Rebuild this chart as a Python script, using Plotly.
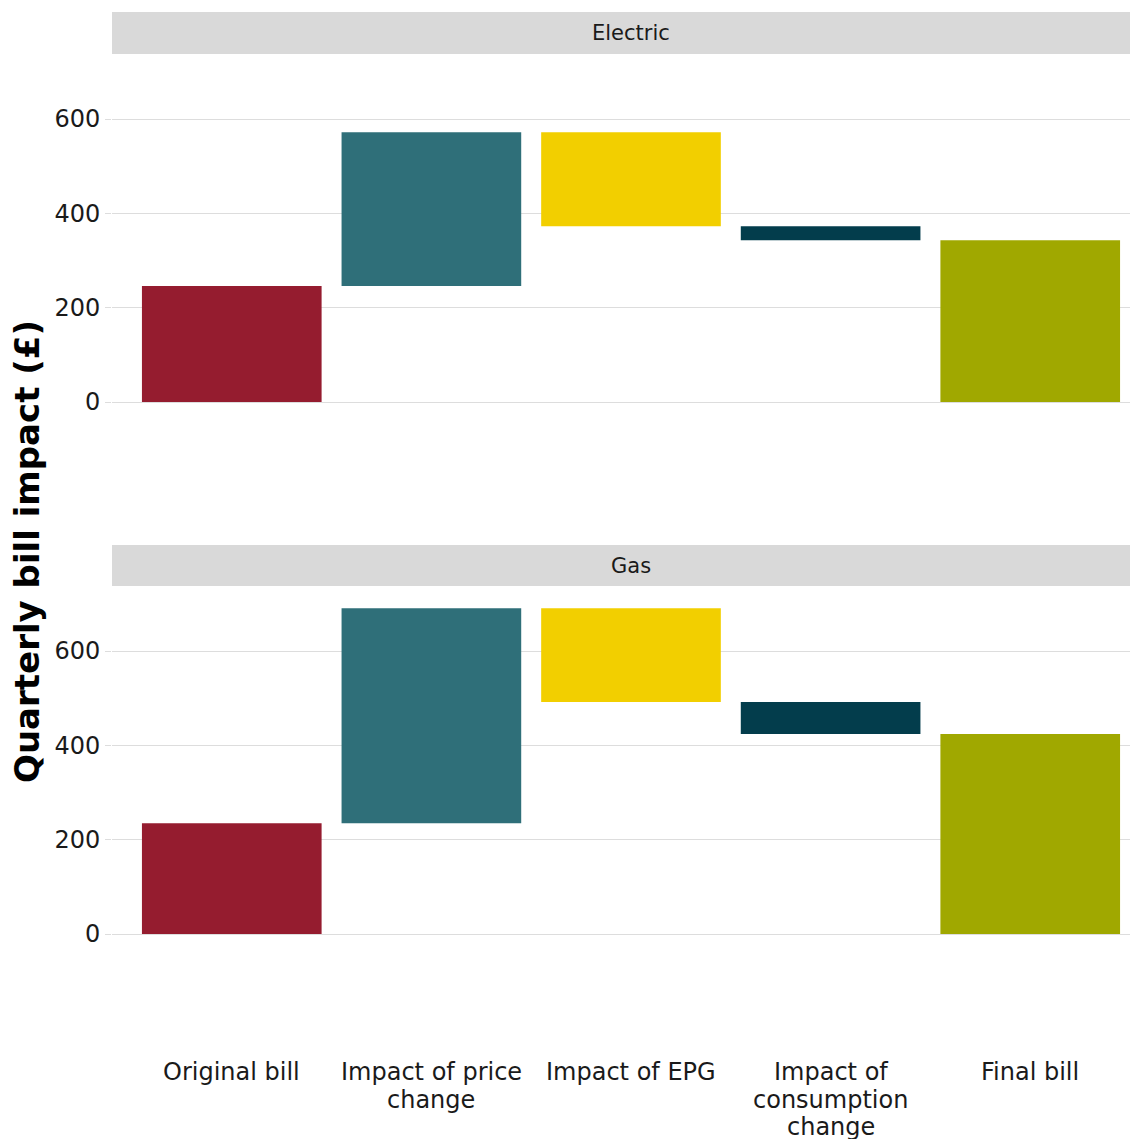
import plotly.graph_objects as go

categories = ["Original bill", "Impact of price<br>change", "Impact of EPG",
              "Impact of<br>consumption<br>change", "Final bill"]
electric_steps = [246, 326, -199, -30, 343]
gas_steps = [235, 456, -199, -68, 424]
bar_colors = ["#951C2F", "#2F6F79", "#F2CF00", "#033D4C", "#A0A800"]
panel_names = ["Electric", "Gas"]
y_ticks = [0, 200, 400, 600]


def bases_for(steps):
    bases = []
    running = 0
    for i, s in enumerate(steps):
        if i == 0 or i == len(steps) - 1:
            bases.append(0)
        else:
            bases.append(running)
        running = s if i == 0 else running + s
    return bases


FONT = "DejaVu Sans"
W, H = 1142, 1131          # page body has an 8px margin; right part clipped like the reference
ML, MR, MT, MB = 104, 0, 4, 87
PLOT_H = H - MT - MB       # 1040
BOTTOM_PX = 8 + MT + PLOT_H  # page pixel of plot bottom


def py(pixel):
    """page pixel y -> paper y"""
    return (BOTTOM_PX - pixel) / PLOT_H


fig = go.Figure()

for steps, xa, ya in [(electric_steps, "x", "y"), (gas_steps, "x2", "y2")]:
    fig.add_trace(go.Bar(
        x=list(range(len(categories))), y=steps, base=bases_for(steps),
        marker=dict(color=bar_colors, line=dict(width=0)),
        width=0.9, xaxis=xa, yaxis=ya, showlegend=False, hoverinfo="skip",
    ))

el_dom = [py(520), py(54)]
gas_dom = [0.0, py(586)]
yr = [-250, 738]
xr = [-0.6, 4.6]

common_y = dict(range=yr, tickvals=y_ticks, showgrid=True, gridcolor="#DDDDDD",
                gridwidth=1.3, zeroline=False, ticks="outside", ticklen=6,
                tickcolor="#DDDDDD", tickwidth=1.3,
                tickfont=dict(family=FONT, size=24, color="#1a1a1a"),
                showline=False)
common_x = dict(range=xr, showgrid=False, zeroline=False, showline=False,
                tickmode="array", tickvals=list(range(len(categories))),
                showticklabels=False)

fig.update_layout(
    width=W, height=H,
    margin=dict(l=ML, r=MR, t=MT, b=MB),
    plot_bgcolor="white", paper_bgcolor="white",
    xaxis=dict(domain=[0, 1], anchor="y", **common_x),
    yaxis=dict(domain=el_dom, anchor="x", **common_y),
    xaxis2=dict(domain=[0, 1], anchor="y2", **common_x),
    yaxis2=dict(domain=gas_dom, anchor="x2", **common_y),
)

# category labels, one line per annotation for ggplot-like tight line spacing
for i, label in enumerate(categories):
    for k, line in enumerate(label.split("<br>")):
        fig.add_annotation(text=line, xref="x2", yref="paper", x=i,
                           y=py(1072 + k * 27.5), showarrow=False,
                           xanchor="center", yanchor="middle",
                           font=dict(family=FONT, size=24, color="#1a1a1a"))

strips = [(panel_names[0], py(54), py(12)), (panel_names[1], py(586), py(545))]
for name, y0, y1 in strips:
    fig.add_shape(type="rect", xref="paper", yref="paper", x0=0, x1=1, y0=y0, y1=y1,
                  fillcolor="#D9D9D9", line=dict(width=0), layer="below")
    fig.add_annotation(text=name, xref="paper", yref="paper", x=0.5, y=(y0 + y1) / 2,
                       showarrow=False, xanchor="center", yanchor="middle",
                       font=dict(family=FONT, size=21, color="#1a1a1a"))

fig.add_annotation(text="<b>Quarterly bill impact (£)</b>", xref="paper", yref="paper",
                   x=(27 - 8 - ML) / (W - ML - MR), y=py(552), textangle=-90,
                   showarrow=False, xanchor="center", yanchor="middle",
                   font=dict(family=FONT, size=34, color="black"))

fig.write_html("out.html",
               post_script="document.documentElement.style.overflow='hidden';"
                           "document.body.style.overflow='hidden';")
